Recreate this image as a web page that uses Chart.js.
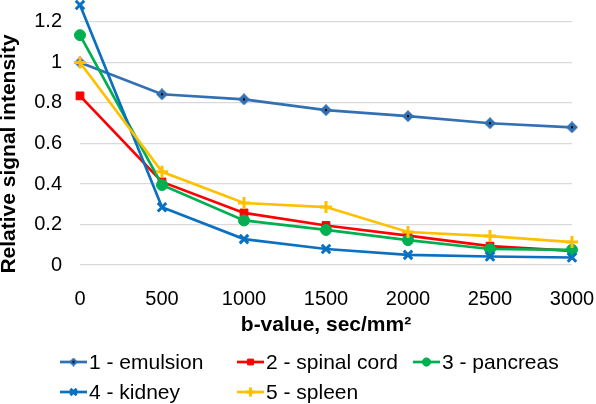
<!DOCTYPE html>
<html>
<head>
<meta charset="utf-8">
<script src="https://cdn.jsdelivr.net/npm/chart.js@4"></script>
<style>
  html, body { margin: 0; padding: 0; background: #fff; }
  #wrap { width: 596px; height: 404px; position: relative; }
</style>
</head>
<body>
<div id="wrap"><canvas id="chart" width="596" height="404"></canvas></div>
<script>
// b-values (sec/mm2)
const bValues = [0, 500, 1000, 1500, 2000, 2500, 3000];
const yTicks = [0, 0.2, 0.4, 0.6, 0.8, 1, 1.2];

// relative signal intensity per tissue
const emulsion = [1.0, 0.843, 0.818, 0.765, 0.735, 0.70, 0.68];
const spinalCord = [0.835, 0.41, 0.257, 0.195, 0.145, 0.093, 0.07];
const pancreas = [1.135, 0.395, 0.22, 0.173, 0.123, 0.079, 0.075];
const kidney = [1.284, 0.285, 0.128, 0.079, 0.05, 0.042, 0.037];
const spleen = [1.0, 0.46, 0.306, 0.286, 0.163, 0.143, 0.113];

const seriesNames = ['1 - emulsion', '2 - spinal cord', '3 - pancreas', '4 - kidney', '5 - spleen'];

const FONT = "'Liberation Sans', Arial, sans-serif";

// diamond with a small black dot, like the Excel marker
function diamondImg(size, color) {
    const c = document.createElement('canvas');
    c.width = size; c.height = size;
    const g = c.getContext('2d');
    const h = size / 2;
    g.fillStyle = color;
    g.beginPath();
    g.moveTo(h, 0); g.lineTo(size, h); g.lineTo(h, size); g.lineTo(0, h);
    g.closePath();
    g.fill();
    g.fillStyle = '#000';
    g.fillRect(h - 1, h - 1, 2, 2);
    return c;
}

const toPts = arr => arr.map((v, i) => ({ x: bValues[i], y: v }));

const datasets = [
    { label: seriesNames[0], data: toPts(emulsion), borderColor: '#3270B2', backgroundColor: '#3270B2',
      pointStyle: diamondImg(12, '#3270B2'), legendStyle: diamondImg(9, '#3270B2'), order: 5 },
    { label: seriesNames[1], data: toPts(spinalCord), borderColor: '#FF0000', backgroundColor: '#FF0000',
      pointStyle: 'rect', pointRadius: 5.5, order: 4 },
    { label: seriesNames[2], data: toPts(pancreas), borderColor: '#00B050', backgroundColor: '#00B050',
      pointStyle: 'circle', pointRadius: 5.5, order: 3 },
    { label: seriesNames[3], data: toPts(kidney), borderColor: '#0A70C0', backgroundColor: '#0A70C0',
      pointStyle: 'crossRot', pointRadius: 6, pointBorderWidth: 3, order: 2 },
    { label: seriesNames[4], data: toPts(spleen), borderColor: '#FFC000', backgroundColor: '#FFC000',
      pointStyle: 'cross', pointRadius: 6, pointBorderWidth: 3, order: 1 }
];
datasets.forEach(d => {
    d.borderWidth = 2.7;
    d.fill = false;
    d.tension = 0;
    d.clip = false;
    if (d.pointRadius === undefined) d.pointRadius = 6;
    if (d.pointBorderWidth === undefined) d.pointBorderWidth = 1;
});

// no extra padding around the plot from the tick labels
function noPad(axis) {
    axis.paddingTop = 0; axis.paddingBottom = 0;
    axis.paddingLeft = 0; axis.paddingRight = 0;
}

// titles + Excel-like legend drawn on the canvas
const decorPlugin = {
    id: 'decor',
    afterDraw(chart) {
        const ctx = chart.ctx;
        ctx.save();
        ctx.fillStyle = '#000';
        ctx.font = 'bold 21px ' + FONT;
        ctx.textAlign = 'center';
        ctx.textBaseline = 'middle';
        ctx.fillText('b-value, sec/mm\u00B2', 326, 325);

        ctx.save();
        ctx.translate(9, 154);
        ctx.rotate(-Math.PI / 2);
        ctx.fillText('Relative signal intensity', 0, 0);
        ctx.restore();

        const cols = [60, 237, 413];
        const rows = [362, 392];
        ctx.font = '21px ' + FONT;
        ctx.textAlign = 'left';
        datasets.forEach((d, i) => {
            const x = cols[i % 3];
            const y = rows[Math.floor(i / 3)];
            ctx.strokeStyle = d.borderColor;
            ctx.lineWidth = 2.7;
            ctx.beginPath();
            ctx.moveTo(x, y);
            ctx.lineTo(x + 27, y);
            ctx.stroke();
            ctx.fillStyle = d.backgroundColor;
            ctx.lineWidth = d.pointBorderWidth;
            const style = d.legendStyle || d.pointStyle;
            Chart.helpers.drawPoint(ctx, { pointStyle: style, radius: d.pointRadius * 0.75, rotation: 0, borderWidth: d.pointBorderWidth }, x + 13.5, y);
            ctx.fillStyle = '#000';
            ctx.fillText(d.label, x + 29, y + 1);
        });
        ctx.restore();
    }
};

new Chart(document.getElementById('chart'), {
    type: 'line',
    data: { datasets: datasets },
    options: {
        responsive: false,
        animation: false,
        layout: { padding: { left: 0, right: 24, top: 0, bottom: 89 } },
        plugins: { legend: { display: false }, tooltip: { enabled: false } },
        scales: {
            x: {
                type: 'linear',
                min: 0,
                max: 3000,
                afterBuildTicks: axis => { axis.ticks = bValues.map(v => ({ value: v })); },
                afterFit: axis => { axis.height = 50; noPad(axis); },
                grid: { display: false },
                border: { display: false },
                ticks: { color: '#000', font: { family: FONT, size: 20 }, padding: 14, maxRotation: 0,
                         callback: v => String(v) }
            },
            y: {
                min: 0,
                max: 1.264,
                afterBuildTicks: axis => { axis.ticks = yTicks.map(v => ({ value: v })); },
                afterFit: axis => { axis.width = 80; noPad(axis); },
                grid: { color: '#D9D9D9', lineWidth: 1.3, drawTicks: false },
                border: { display: false },
                ticks: { color: '#000', font: { family: FONT, size: 20 }, padding: 18,
                         callback: v => String(+v.toFixed(1)) }
            }
        }
    },
    plugins: [decorPlugin]
});
</script>
</body>
</html>
